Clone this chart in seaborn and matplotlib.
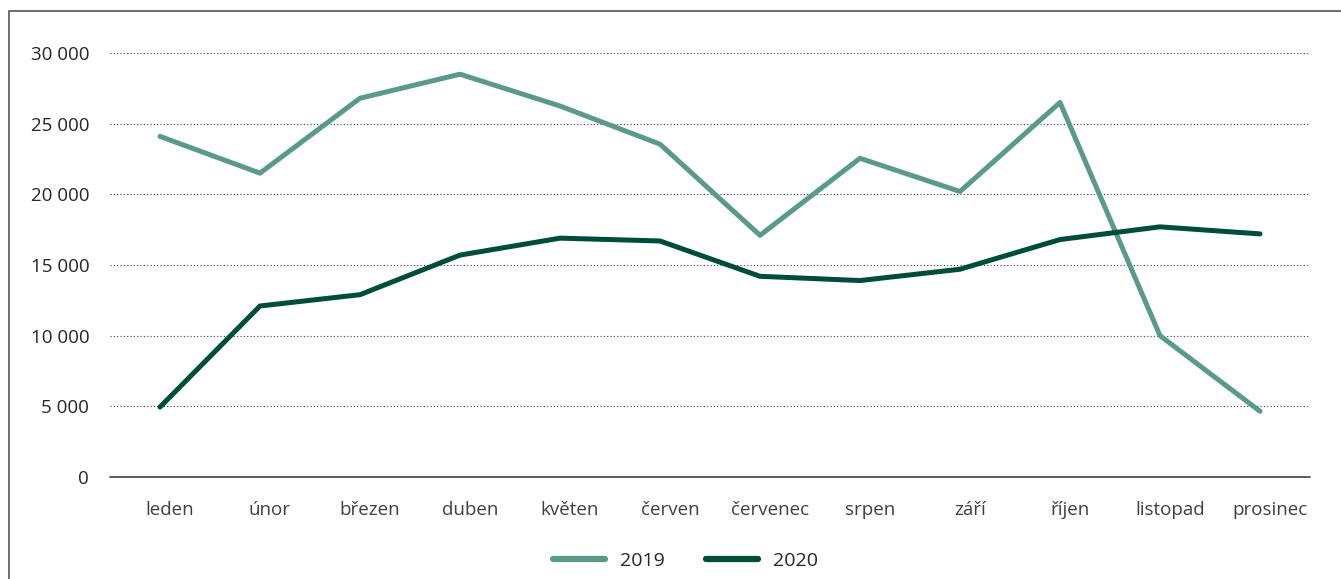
import pandas as pd
import matplotlib.pyplot as plt
import matplotlib.transforms as mtransforms
from matplotlib.patches import Rectangle
import seaborn as sns

# Data
months = ['leden', 'únor', 'březen', 'duben', 'květen', 'červen',
          'červenec', 'srpen', 'září', 'říjen', 'listopad', 'prosinec']
values_2019 = [24100, 21500, 26800, 28500, 26250, 23550,
               17100, 22550, 20200, 26500, 10000, 4650]
values_2020 = [4950, 12100, 12900, 15700, 16900, 16700,
               14200, 13900, 14700, 16800, 17700, 17200]
years = ['2019', '2020']
colors = ['#5b9a8b', '#004d3a']

df = pd.DataFrame({
    'mesic': months * 2,
    'pos': list(range(len(months))) * 2,
    'hodnota': values_2019 + values_2020,
    'rok': [years[0]] * len(months) + [years[1]] * len(months),
})

sns.set_style('white')
plt.rcParams['font.family'] = ['Open Sans', 'DejaVu Sans']

fig = plt.figure(figsize=(13.41, 5.79), dpi=100)
ax = fig.add_axes([110 / 1341, 102 / 579, 1200 / 1341, 424 / 579])

sns.lineplot(data=df, x='pos', y='hodnota', hue='rok', palette=colors,
             linewidth=3.6, ax=ax, legend=False)
for line in ax.get_lines():
    line.set_solid_capstyle('round')
    line.set_solid_joinstyle('round')

ax.set_xlim(-0.5, 11.5)
ax.set_ylim(0, 30000)
ax.set_xticks(range(len(months)))
ax.set_xticklabels(months)
ticks = list(range(0, 30001, 5000))
ax.set_yticks(ticks)
ax.set_yticklabels([f'{t:,}'.replace(',', ' ') for t in ticks])
ax.set_xlabel('')
ax.set_ylabel('')
ax.tick_params(axis='x', length=0, pad=17, labelsize=13.5, labelcolor='#404040')
ax.tick_params(axis='y', length=0, pad=15, labelsize=13.5, labelcolor='#262626')

# shift month labels slightly right like the original
offset = mtransforms.ScaledTranslation(10 / 100, 0, fig.dpi_scale_trans)
for lab in ax.get_xticklabels():
    lab.set_transform(lab.get_transform() + offset)

for t in ticks[1:]:
    ax.axhline(t, color='#404040', linestyle=(0, (1, 2)), linewidth=0.8, zorder=0)
ax.axhline(0, color='#404040', linewidth=1.2, zorder=1, clip_on=False)
for s in ax.spines.values():
    s.set_visible(False)

handles = [plt.Line2D([], [], color=c, linewidth=4.5, solid_capstyle='round') for c in colors]
fig.legend(handles, years, loc='center', bbox_to_anchor=(0.511, 0.031), ncol=2,
           frameon=False, fontsize=14, handlelength=2.7, columnspacing=2.1,
           handletextpad=0.75)

# outer frame (partly cut off at right and bottom)
fig.patches.append(Rectangle((9 / 1341, -0.1), 1.2, 1 - 11 / 579 + 0.1,
                             transform=fig.transFigure, fill=False,
                             edgecolor='#555555', linewidth=1.2))

fig.savefig('out.png', dpi=100)
